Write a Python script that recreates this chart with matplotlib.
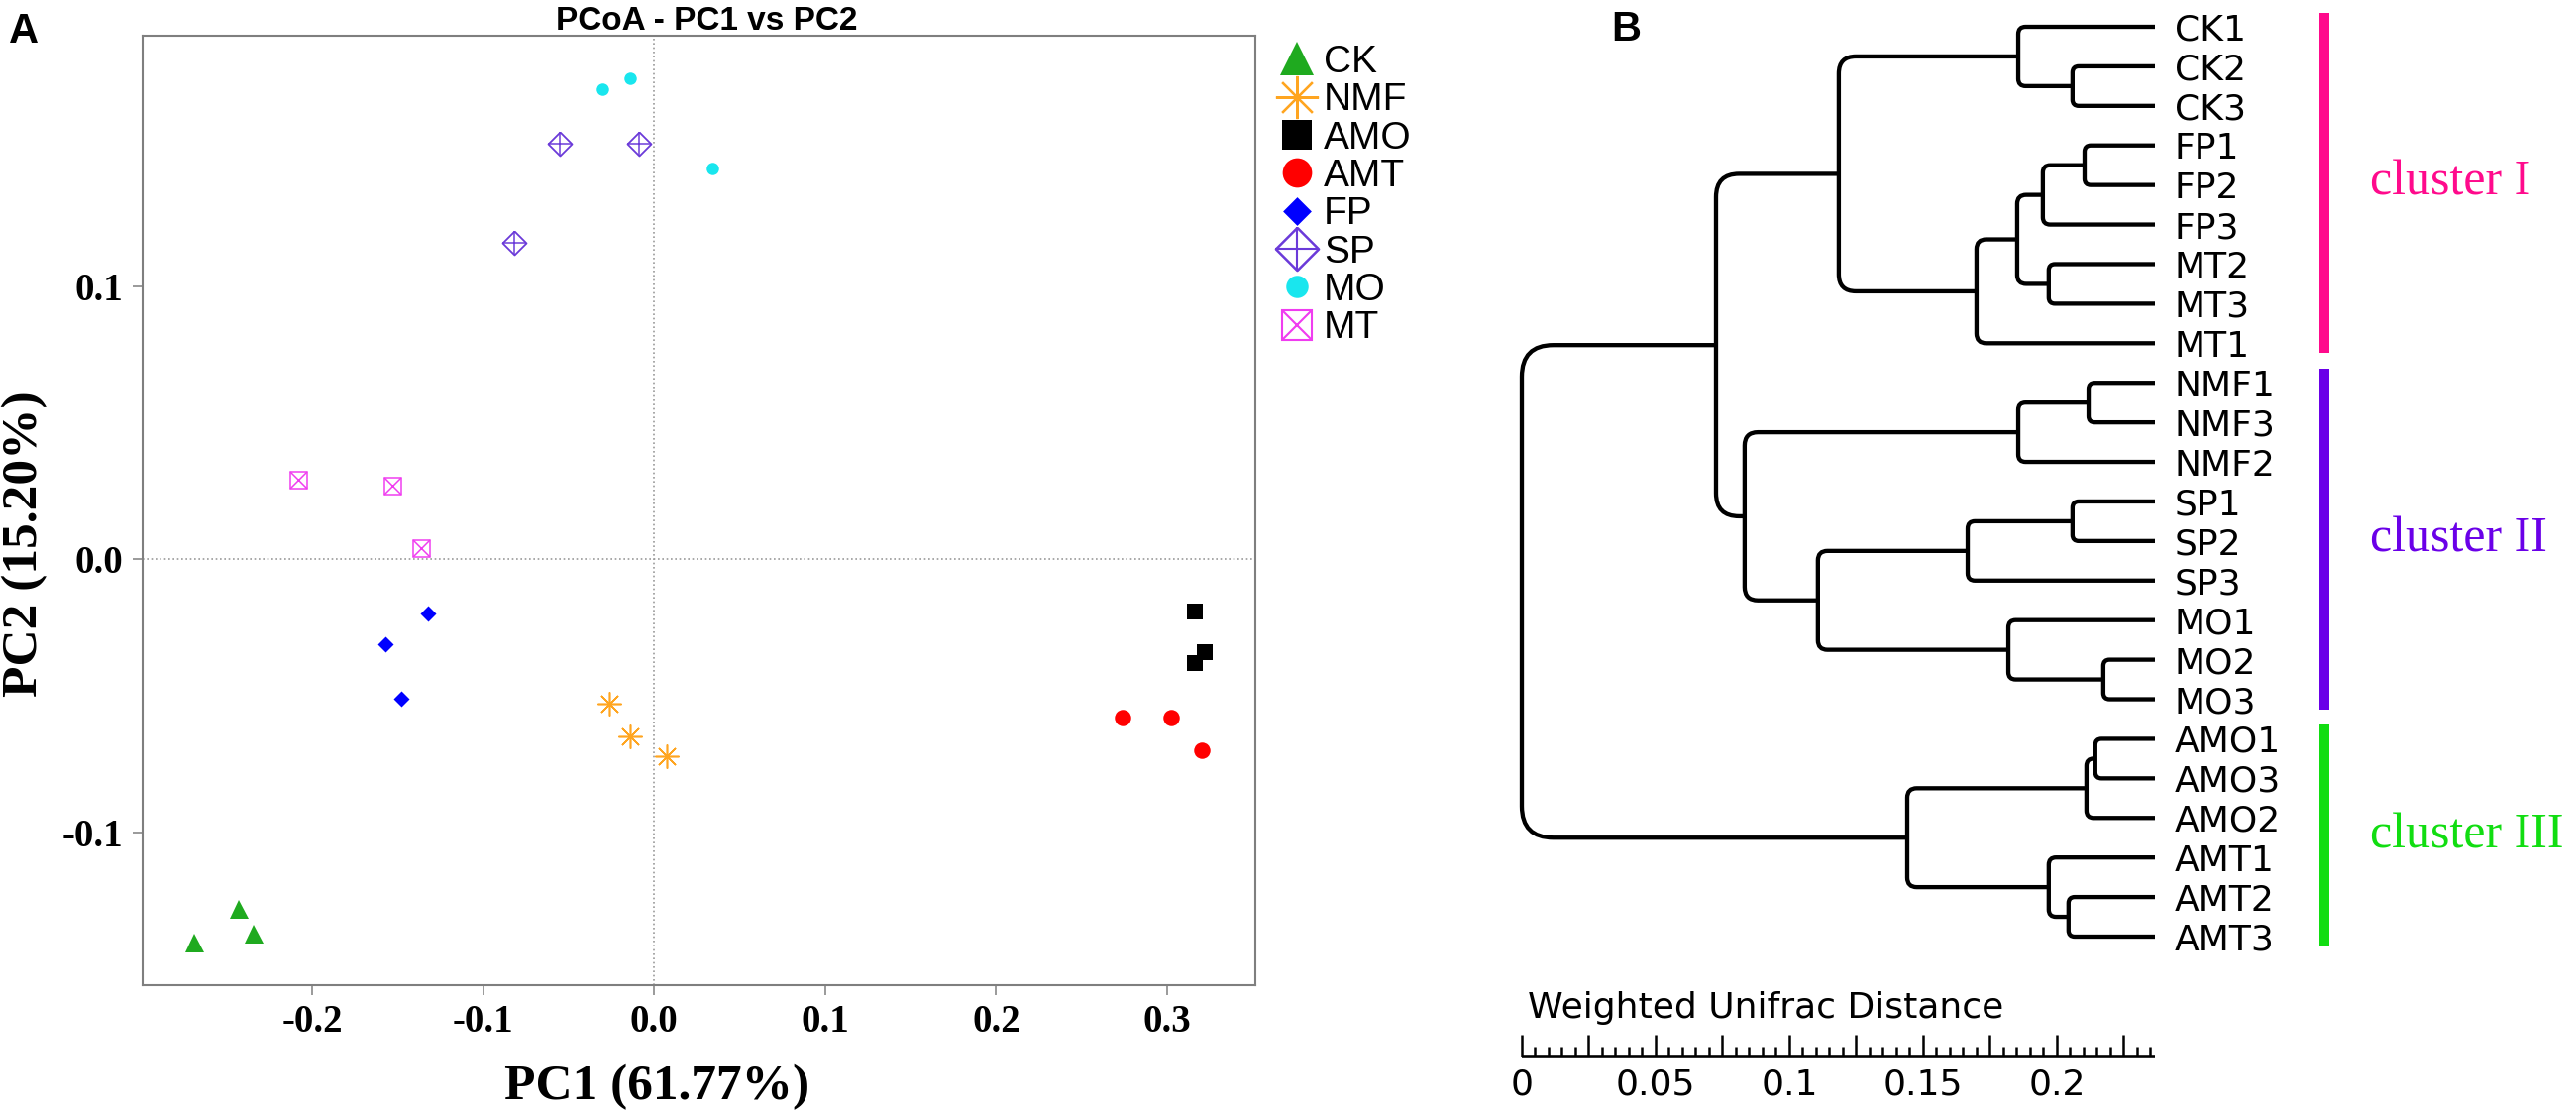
import matplotlib
matplotlib.use("Agg")
import matplotlib.pyplot as plt
from matplotlib.lines import Line2D
from matplotlib.path import Path
from matplotlib.patches import PathPatch
from matplotlib import transforms
from matplotlib.ticker import MultipleLocator, FuncFormatter

plt.rcParams['axes.unicode_minus'] = False
plt.rcParams['font.family'] = ['DejaVu Sans']

W, H, DPI = 2600, 1123, 100

# ---------------- Panel A data (PCoA) ----------------
groups = ["CK", "NMF", "AMO", "AMT", "FP", "SP", "MO", "MT"]
ck_x = [-0.243, -0.234, -0.269];  ck_y = [-0.128, -0.137, -0.1405]
nmf_x = [-0.026, -0.014, 0.0075]; nmf_y = [-0.053, -0.065, -0.072]
amo_x = [0.316, 0.322, 0.316];    amo_y = [-0.019, -0.034, -0.038]
amt_x = [0.274, 0.302, 0.320];    amt_y = [-0.058, -0.058, -0.070]
fp_x = [-0.132, -0.157, -0.148];  fp_y = [-0.020, -0.031, -0.051]
sp_x = [-0.055, -0.009, -0.082];  sp_y = [0.152, 0.152, 0.116]
mo_x = [-0.030, -0.014, 0.034];   mo_y = [0.172, 0.176, 0.143]
mt_x = [-0.208, -0.153, -0.136];  mt_y = [0.029, 0.027, 0.004]
x_ticks = [-0.2, -0.1, 0.0, 0.1, 0.2, 0.3]
y_ticks = [-0.1, 0.0, 0.1]
pcoa_title = "PCoA - PC1 vs PC2"
x_label = "PC1 (61.77%)"
y_label = "PC2 (15.20%)"

# ---------------- Panel B data (dendrogram) ----------------
leaf_labels = ["CK1", "CK2", "CK3", "FP1", "FP2", "FP3", "MT2", "MT3", "MT1",
               "NMF1", "NMF3", "NMF2", "SP1", "SP2", "SP3", "MO1", "MO2", "MO3",
               "AMO1", "AMO3", "AMO2", "AMT1", "AMT2", "AMT3"]
tree_depth = 0.2367
node_names = ["E", "D", "J", "H", "I", "G", "F", "C", "L", "K", "O", "N",
              "Q", "P", "M", "B", "A", "U", "S", "V", "T", "R", "root"]
node_left = ["CK2", "CK1", "FP1", "J", "MT2", "H", "G", "D", "NMF1", "L", "SP1", "O",
             "MO2", "MO1", "N", "K", "C", "AMO1", "U", "AMT2", "AMT1", "S", "A"]
node_right = ["CK3", "E", "FP2", "FP3", "MT3", "I", "MT1", "F", "NMF3", "NMF2", "SP2", "SP3",
              "MO3", "Q", "P", "M", "B", "AMO3", "AMO2", "AMT3", "V", "T", "R"]
node_dist = [0.2059, 0.1856, 0.2104, 0.1948, 0.1970, 0.1852, 0.1700, 0.1185, 0.2119,
             0.1856, 0.2059, 0.1667, 0.2174, 0.1819, 0.1107, 0.0833, 0.0726, 0.2144,
             0.2111, 0.2044, 0.1970, 0.1441, 0.0]
cluster_names = ["cluster I", "cluster II", "cluster III"]
cluster_first = ["CK1", "NMF1", "AMO1"]
cluster_last = ["MT1", "MO3", "AMT3"]
scale_title = "Weighted Unifrac Distance"


def px(v):
    return v * 72.0 / DPI


fig = plt.figure(figsize=(W / DPI, H / DPI), dpi=DPI)

# ================= Panel A =================
L, R, T, B = 144, 1267, 36, 994
ax = fig.add_axes([L / W, (H - B) / H, (R - L) / W, (B - T) / H])
ax.set_xlim(-0.299, 0.3515)
ax.set_ylim(-0.156, 0.1917)

dot = (0, (1, 1.6))
ax.axhline(0, color='#9a9a9a', lw=1.2, ls=dot, zorder=0)
ax.axvline(0, color='#9a9a9a', lw=1.2, ls=dot, zorder=0)

group_x = [ck_x, nmf_x, amo_x, amt_x, fp_x, sp_x, mo_x, mt_x]
group_y = [ck_y, nmf_y, amo_y, amt_y, fp_y, sp_y, mo_y, mt_y]
group_colors = ["#1FAA1F", "#FFA520", "#000000", "#FF0000", "#0000FF",
                "#6B3AD9", "#19E6EE", "#F03CF0"]
group_sizes = [19, 24, 16.5, 16.5, 16, 24, 12.5, 17]
DIAMOND = [(0, 1), (1, 0), (0, -1), (-1, 0), (0, 1)]


def layers(name, c, scale=1.0):
    if name == "CK":
        return [dict(marker='^', mfc=c, mec=c, mew=0)]
    if name == "NMF":
        return [dict(marker=(8, 2, 0), mfc=c, mec=c, mew=px(1.6 * scale))]
    if name == "AMO":
        return [dict(marker='s', mfc=c, mec=c, mew=0)]
    if name in ("AMT", "MO"):
        return [dict(marker='o', mfc=c, mec=c, mew=0)]
    if name == "FP":
        return [dict(marker=DIAMOND, mfc=c, mec=c, mew=0)]
    if name == "SP":
        return [dict(marker=DIAMOND, mfc='none', mec=c, mew=px(1.8 * scale)),
                dict(marker='+', mfc='none', mec=c, mew=px(1.5 * scale))]
    if name == "MT":
        return [dict(marker='s', mfc='none', mec=c, mew=px(1.5 * scale)),
                dict(marker='x', mfc='none', mec=c, mew=px(1.5 * scale))]


LEG_SCALE = 1.8
handles = []
for g, xs, ys, c, s in zip(groups, group_x, group_y, group_colors, group_sizes):
    for lay in layers(g, c):
        ax.plot(xs, ys, ls='none', ms=px(s), zorder=3, **lay)
    hs = tuple(Line2D([], [], ls='none', ms=px(s * LEG_SCALE), **lay)
               for lay in layers(g, c, 1.4))
    handles.append(hs if len(hs) > 1 else hs[0])

for sp in ax.spines.values():
    sp.set_color('#7f7f7f')
    sp.set_linewidth(1.5)

ax.set_xticks(x_ticks)
ax.set_xticklabels([f"{v:.1f}" for v in x_ticks])
ax.set_yticks(y_ticks)
ax.set_yticklabels([f"{v:.1f}" for v in y_ticks])
serif_bold = dict(family='Liberation Serif', weight='bold')
for lab in ax.get_xticklabels() + ax.get_yticklabels():
    lab.set_fontfamily('Liberation Serif')
    lab.set_fontweight('bold')
    lab.set_fontsize(28)
ax.tick_params(axis='both', direction='out', length=7, width=1.1, color='#7f7f7f', pad=7)

ax.set_xlabel(x_label, fontsize=37, **serif_bold)
ax.xaxis.set_label_coords(0.462, -0.108)
ax.xaxis.label.set_va('center')
ax.set_ylabel(y_label, fontsize=37, **serif_bold)
ax.yaxis.set_label_coords(-0.106, 0.4645)
ax.yaxis.label.set_va('center')

ax.text(0.507, 1.0063, pcoa_title, transform=ax.transAxes, ha='center', va='baseline',
        fontsize=24, family='Liberation Sans', weight='bold')

leg = fig.legend(handles, groups, loc='upper left',
                 bbox_to_anchor=(1290 / W, 1 - 45 / H), bbox_transform=fig.transFigure,
                 frameon=False, prop=dict(family='Liberation Sans', size=28),
                 handlelength=1.0, handletextpad=0.18, labelspacing=0.06,
                 borderpad=0, borderaxespad=0, numpoints=1)

fig.text(9 / W, 1 - 43 / H, "A", fontsize=30, family='Liberation Sans', weight='bold',
         va='baseline', ha='left')
fig.text(1626 / W, 1 - 41 / H, "B", fontsize=30, family='Liberation Sans', weight='bold',
         va='baseline', ha='left')

# ================= Panel B =================
DL, DR, DT, DB = 1536, 2175, 27, 945
axd = fig.add_axes([DL / W, (H - DB) / H, (DR - DL) / W, (DB - DT) / H])
axd.set_xlim(0, tree_depth)
axd.set_ylim(len(leaf_labels) - 1, 0)
axd.axis('off')

ppx = (DR - DL) / tree_depth
ppy = (DB - DT) / (len(leaf_labels) - 1)

pos = {name: (tree_depth, i) for i, name in enumerate(leaf_labels)}
lw_tree = 3.1
for n, a, b, d in zip(node_names, node_left, node_right, node_dist):
    (xa, ya), (xb, yb) = pos[a], pos[b]
    if ya > yb:
        (xa, ya), (xb, yb) = (xb, yb), (xa, ya)
    span = (yb - ya) * ppy
    r = min(4 + 0.056 * span, span / 2, (xa - d) * ppx, (xb - d) * ppx)
    rx, ry = r / ppx, r / ppy
    verts = [(xa, ya), (d + rx, ya), (d, ya), (d, ya + ry), (d, yb - ry), (d, yb),
             (d + rx, yb), (xb, yb)]
    codes = [Path.MOVETO, Path.LINETO, Path.CURVE3, Path.CURVE3, Path.LINETO,
             Path.CURVE3, Path.CURVE3, Path.LINETO]
    axd.add_patch(PathPatch(Path(verts, codes), fill=False, lw=lw_tree, ec='black',
                            capstyle='butt', joinstyle='round', clip_on=False))
    pos[n] = (d, (ya + yb) / 2)

for i, name in enumerate(leaf_labels):
    axd.annotate(name, xy=(tree_depth, i), xytext=(px(20), 0), textcoords='offset points',
                 va='center_baseline', ha='left', fontsize=26, annotation_clip=False)

cluster_colors = ["#FF0A8C", "#6A00E8", "#11DD11"]
bar_tr = transforms.offset_copy(axd.transData, fig=fig, x=171, y=0, units='dots')
txt_tr = transforms.offset_copy(axd.transData, fig=fig, x=217, y=0, units='dots')
for name, f, l, c in zip(cluster_names, cluster_first, cluster_last, cluster_colors):
    i0, i1 = leaf_labels.index(f), leaf_labels.index(l)
    axd.plot([tree_depth, tree_depth], [i0 - 0.35, i1 + 0.25], color=c, lw=px(10),
             solid_capstyle='butt', transform=bar_tr, clip_on=False)
    axd.text(tree_depth, (i0 - 0.35 + i1 + 0.25) / 2, name, transform=txt_tr,
             color=c, fontsize=36, family='Liberation Serif', va='center', ha='left')

# scale bar
SB = 1066
axs = fig.add_axes([DL / W, (H - SB) / H, (DR - DL) / W, 30 / H])
axs.set_xlim(0, tree_depth)
axs.set_ylim(0, 1)
axs.patch.set_visible(False)
for s in ['top', 'right', 'left']:
    axs.spines[s].set_visible(False)
axs.spines['bottom'].set_linewidth(2.6)
axs.spines['bottom'].set_capstyle('butt')
axs.set_yticks([])
axs.xaxis.set_major_locator(MultipleLocator(0.025))
axs.xaxis.set_minor_locator(MultipleLocator(0.005))


def fmt(v, p):
    k = v / 0.05
    return f"{round(v, 3):g}" if abs(k - round(k)) < 1e-6 else ""


axs.xaxis.set_major_formatter(FuncFormatter(fmt))
axs.tick_params(axis='x', which='major', direction='in', length=15.5, width=1.8,
                pad=8, labelsize=26)
axs.tick_params(axis='x', which='minor', direction='in', length=7, width=1.8)
fig.text(1542 / W, 1 - 1027 / H, scale_title, fontsize=26, va='baseline', ha='left')

fig.savefig("out.png", dpi=DPI, facecolor='white')
